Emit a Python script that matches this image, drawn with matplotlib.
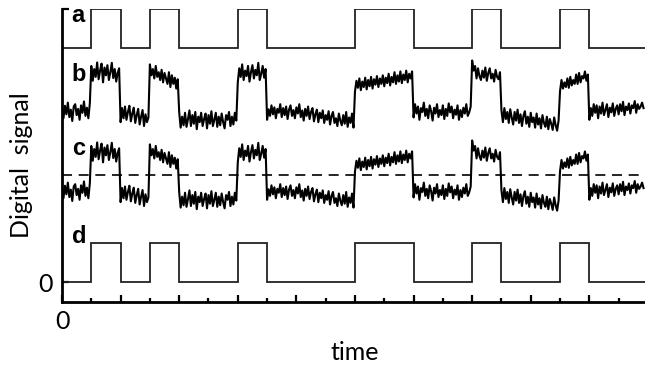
import numpy as np
import matplotlib
matplotlib.use("Agg")
import matplotlib.pyplot as plt
from matplotlib.ticker import MultipleLocator

# Transmitted bit pulses: (start, end) times in tick units
pulse_starts = [1, 3, 6, 10, 14, 17]
pulse_ends = [2, 4, 7, 12, 15, 18]
t_end = 19.9

# Received (noisy) signal, sampled every 0.05 time units, relative to the low level
dt = 0.05
rx_0_1 = [0.08, -0.18, 0.14, -0.08, 0.22, -0.15, 0.04, -0.25, 0.12, 0.18, -0.10, 0.06, -0.22, 0.15, -0.04, 0.25, -0.12, 0.09, -0.18, 0.20]
rx_1_2 = [1.16, 0.78, 1.08, 0.88, 1.25, 0.82, 1.04, 1.22, 0.74, 1.12, 0.92, 1.18, 0.80, 1.00, 1.24, 0.85, 1.08, 0.76, 0.98, 1.10]
rx_2_3 = [-0.28, 0.08, -0.18, 0.12, -0.22, -0.02, 0.14, -0.26, -0.06, 0.09, -0.30, -0.10, 0.06, -0.34, -0.14, 0.03, -0.38, -0.08, -0.28, -0.16]
rx_3_4 = [1.20, 0.92, 1.08, 0.84, 1.16, 0.88, 1.00, 0.80, 1.06, 0.74, 0.98, 0.84, 0.70, 1.00, 0.62, 0.92, 0.70, 0.86, 0.58, 0.82]
rx_4_6 = [-0.02, -0.42, -0.14, -0.36, -0.04, -0.40, -0.20, 0.02, -0.38, -0.10, -0.32, -0.02, -0.46, -0.14, -0.28, -0.04, -0.38, -0.20, -0.06, -0.44,
          -0.10, -0.32, 0.00, -0.38, -0.22, -0.04, -0.40, -0.14, -0.36, -0.06, -0.28, -0.44, -0.10, -0.22, -0.02, -0.38, -0.14, -0.34, -0.04, -0.24]
rx_6_7 = [0.74, 1.10, 0.88, 1.20, 0.80, 1.04, 0.90, 1.16, 0.76, 1.00, 1.18, 0.84, 1.06, 0.92, 1.24, 0.80, 0.96, 1.16, 0.86, 1.08]
rx_7_10 = [-0.22, 0.05, -0.12, 0.15, -0.08, 0.10, -0.18, 0.06, -0.04, 0.18, -0.15, 0.08, -0.10, 0.12, -0.20, 0.04, 0.15, -0.12, 0.03, -0.18,
           0.10, -0.06, 0.18, -0.15, 0.02, -0.24, 0.06, -0.12, 0.12, -0.20, -0.02, 0.08, -0.26, -0.08, 0.04, -0.28, -0.04, -0.18, 0.02, -0.30,
           -0.10, -0.22, 0.00, -0.34, -0.12, -0.02, -0.30, -0.18, -0.38, -0.06, -0.24, -0.36, -0.10, -0.32, -0.02, -0.40, -0.16, -0.30, -0.06, -0.42]
rx_10_12 = [0.50, 0.78, 0.60, 0.84, 0.54, 0.76, 0.62, 0.86, 0.56, 0.80, 0.64, 0.88, 0.58, 0.82, 0.68, 0.90, 0.62, 0.84, 0.70, 0.92,
            0.64, 0.86, 0.72, 0.96, 0.66, 0.88, 0.74, 1.00, 0.70, 0.92, 0.76, 1.02, 0.72, 0.94, 0.80, 1.04, 0.74, 0.96, 0.84, 1.02]
rx_12_14 = [-0.16, 0.18, -0.06, 0.12, -0.22, 0.08, -0.02, 0.22, -0.12, 0.06, -0.18, 0.15, 0.00, -0.24, 0.09, -0.06, 0.18, -0.15, 0.03, -0.10,
            0.15, -0.20, 0.06, -0.12, 0.20, -0.03, 0.12, -0.18, 0.04, -0.09, 0.15, -0.22, 0.03, -0.15, 0.09, -0.06, 0.18, -0.12, -0.03, 0.12]
rx_14_15 = [1.30, 1.04, 1.16, 0.84, 1.10, 0.90, 0.80, 1.04, 0.86, 1.12, 0.78, 0.98, 1.10, 0.84, 0.96, 0.76, 1.06, 0.88, 0.82, 1.00]
rx_15_17 = [0.02, -0.28, 0.08, -0.20, -0.02, -0.30, 0.05, -0.16, -0.34, -0.02, -0.24, 0.04, -0.30, -0.08, -0.38, -0.12, 0.00, -0.32, -0.14, -0.40,
            -0.04, -0.28, -0.16, -0.42, -0.06, -0.34, -0.18, -0.44, -0.10, -0.30, -0.40, -0.14, -0.46, -0.20, -0.32, -0.48, -0.16, -0.36, -0.50, -0.24]
rx_17_18 = [0.52, 0.80, 0.58, 0.74, 0.62, 0.84, 0.60, 0.88, 0.66, 0.80, 0.70, 0.94, 0.70, 0.98, 0.74, 0.90, 0.84, 1.02, 0.78, 0.94]
rx_18_end = [-0.22, 0.08, -0.12, 0.18, -0.04, 0.15, -0.18, 0.12, -0.06, 0.22, -0.10, 0.03, 0.18, -0.15, 0.09, -0.03, 0.20, -0.12, 0.06, 0.15,
             -0.08, 0.18, 0.00, 0.24, -0.10, 0.12, 0.03, 0.20, -0.06, 0.15, 0.08, 0.26, -0.04, 0.18, 0.06, 0.12, 0.22, 0.08]

received = np.array(rx_0_1 + rx_1_2 + rx_2_3 + rx_3_4 + rx_4_6 + rx_6_7 + rx_7_10
                    + rx_10_12 + rx_12_14 + rx_14_15 + rx_15_17 + rx_17_18 + rx_18_end)
t_rx = np.arange(len(received)) * dt

# Vertical offsets of the four panels
offset_a = 6.0
offset_b = 4.38
offset_c = 2.33
offset_d = 0.0
threshold_c = 2.74


def square_wave(starts, ends, t_stop):
    xs, ys = [0.0], [0.0]
    for s, e in zip(starts, ends):
        xs += [s, s, e, e]
        ys += [0.0, 1.0, 1.0, 0.0]
    xs.append(t_stop)
    ys.append(0.0)
    return np.array(xs), np.array(ys)


fig = plt.figure(figsize=(6.45, 3.67), dpi=100)
ax = fig.add_axes([62 / 645, 1 - 302 / 367, 1 - 62 / 645, (302 - 9) / 367])

xs, ys = square_wave(pulse_starts, pulse_ends, t_end)
ax.plot(xs, ys + offset_a, color="#222222", lw=1.3, solid_joinstyle="miter")
ax.plot(t_rx, received + offset_b, color="black", lw=1.5)
ax.plot(t_rx, received + offset_c, color="black", lw=1.5)
ax.axhline(threshold_c, color="black", lw=1.2, dashes=(6, 4))
ax.plot(xs, ys + offset_d, color="#222222", lw=1.3, solid_joinstyle="miter")

label_kw = dict(fontsize=17, fontweight="bold", family="Liberation Sans",
                ha="left", va="baseline")
ax.text(0.33, 6.67, "a", **label_kw)
ax.text(0.33, 5.15, "b", **label_kw)
ax.text(0.33, 3.26, "c", **label_kw)
ax.text(0.33, 1.0, "d", **label_kw)

ax.set_xlim(0, t_end)
ax.set_ylim(-0.51, 7.0)

for side in ("top", "right"):
    ax.spines[side].set_visible(False)
for side in ("left", "bottom"):
    ax.spines[side].set_linewidth(2.0)

ax.xaxis.set_major_locator(MultipleLocator(2))
ax.xaxis.set_minor_locator(MultipleLocator(1))
ax.set_xticklabels([])
ax.tick_params(axis="x", which="major", direction="in", length=5, width=1.6, pad=4)
ax.tick_params(axis="x", which="minor", direction="in", length=3, width=1.6)
ax.set_yticks([0, 7.0])
ax.set_yticklabels(["0", ""])
ax.tick_params(axis="y", direction="in", length=5, width=1.6, pad=7,
               labelsize=18)
for lab in ax.get_yticklabels():
    lab.set_family("Lato")

ax.text(0, -0.51 - 0.2, "0", ha="center", va="top", fontsize=18, family="Lato")

fig.text(22 / 645, 1 - 165 / 367, "Digital  signal", rotation=90,
         ha="center", va="center", fontsize=18, family="Lato")
fig.text(355 / 645, 1 - 352 / 367, "time", ha="center", va="center",
         fontsize=18, family="Lato")

fig.savefig("out.png", dpi=100)
